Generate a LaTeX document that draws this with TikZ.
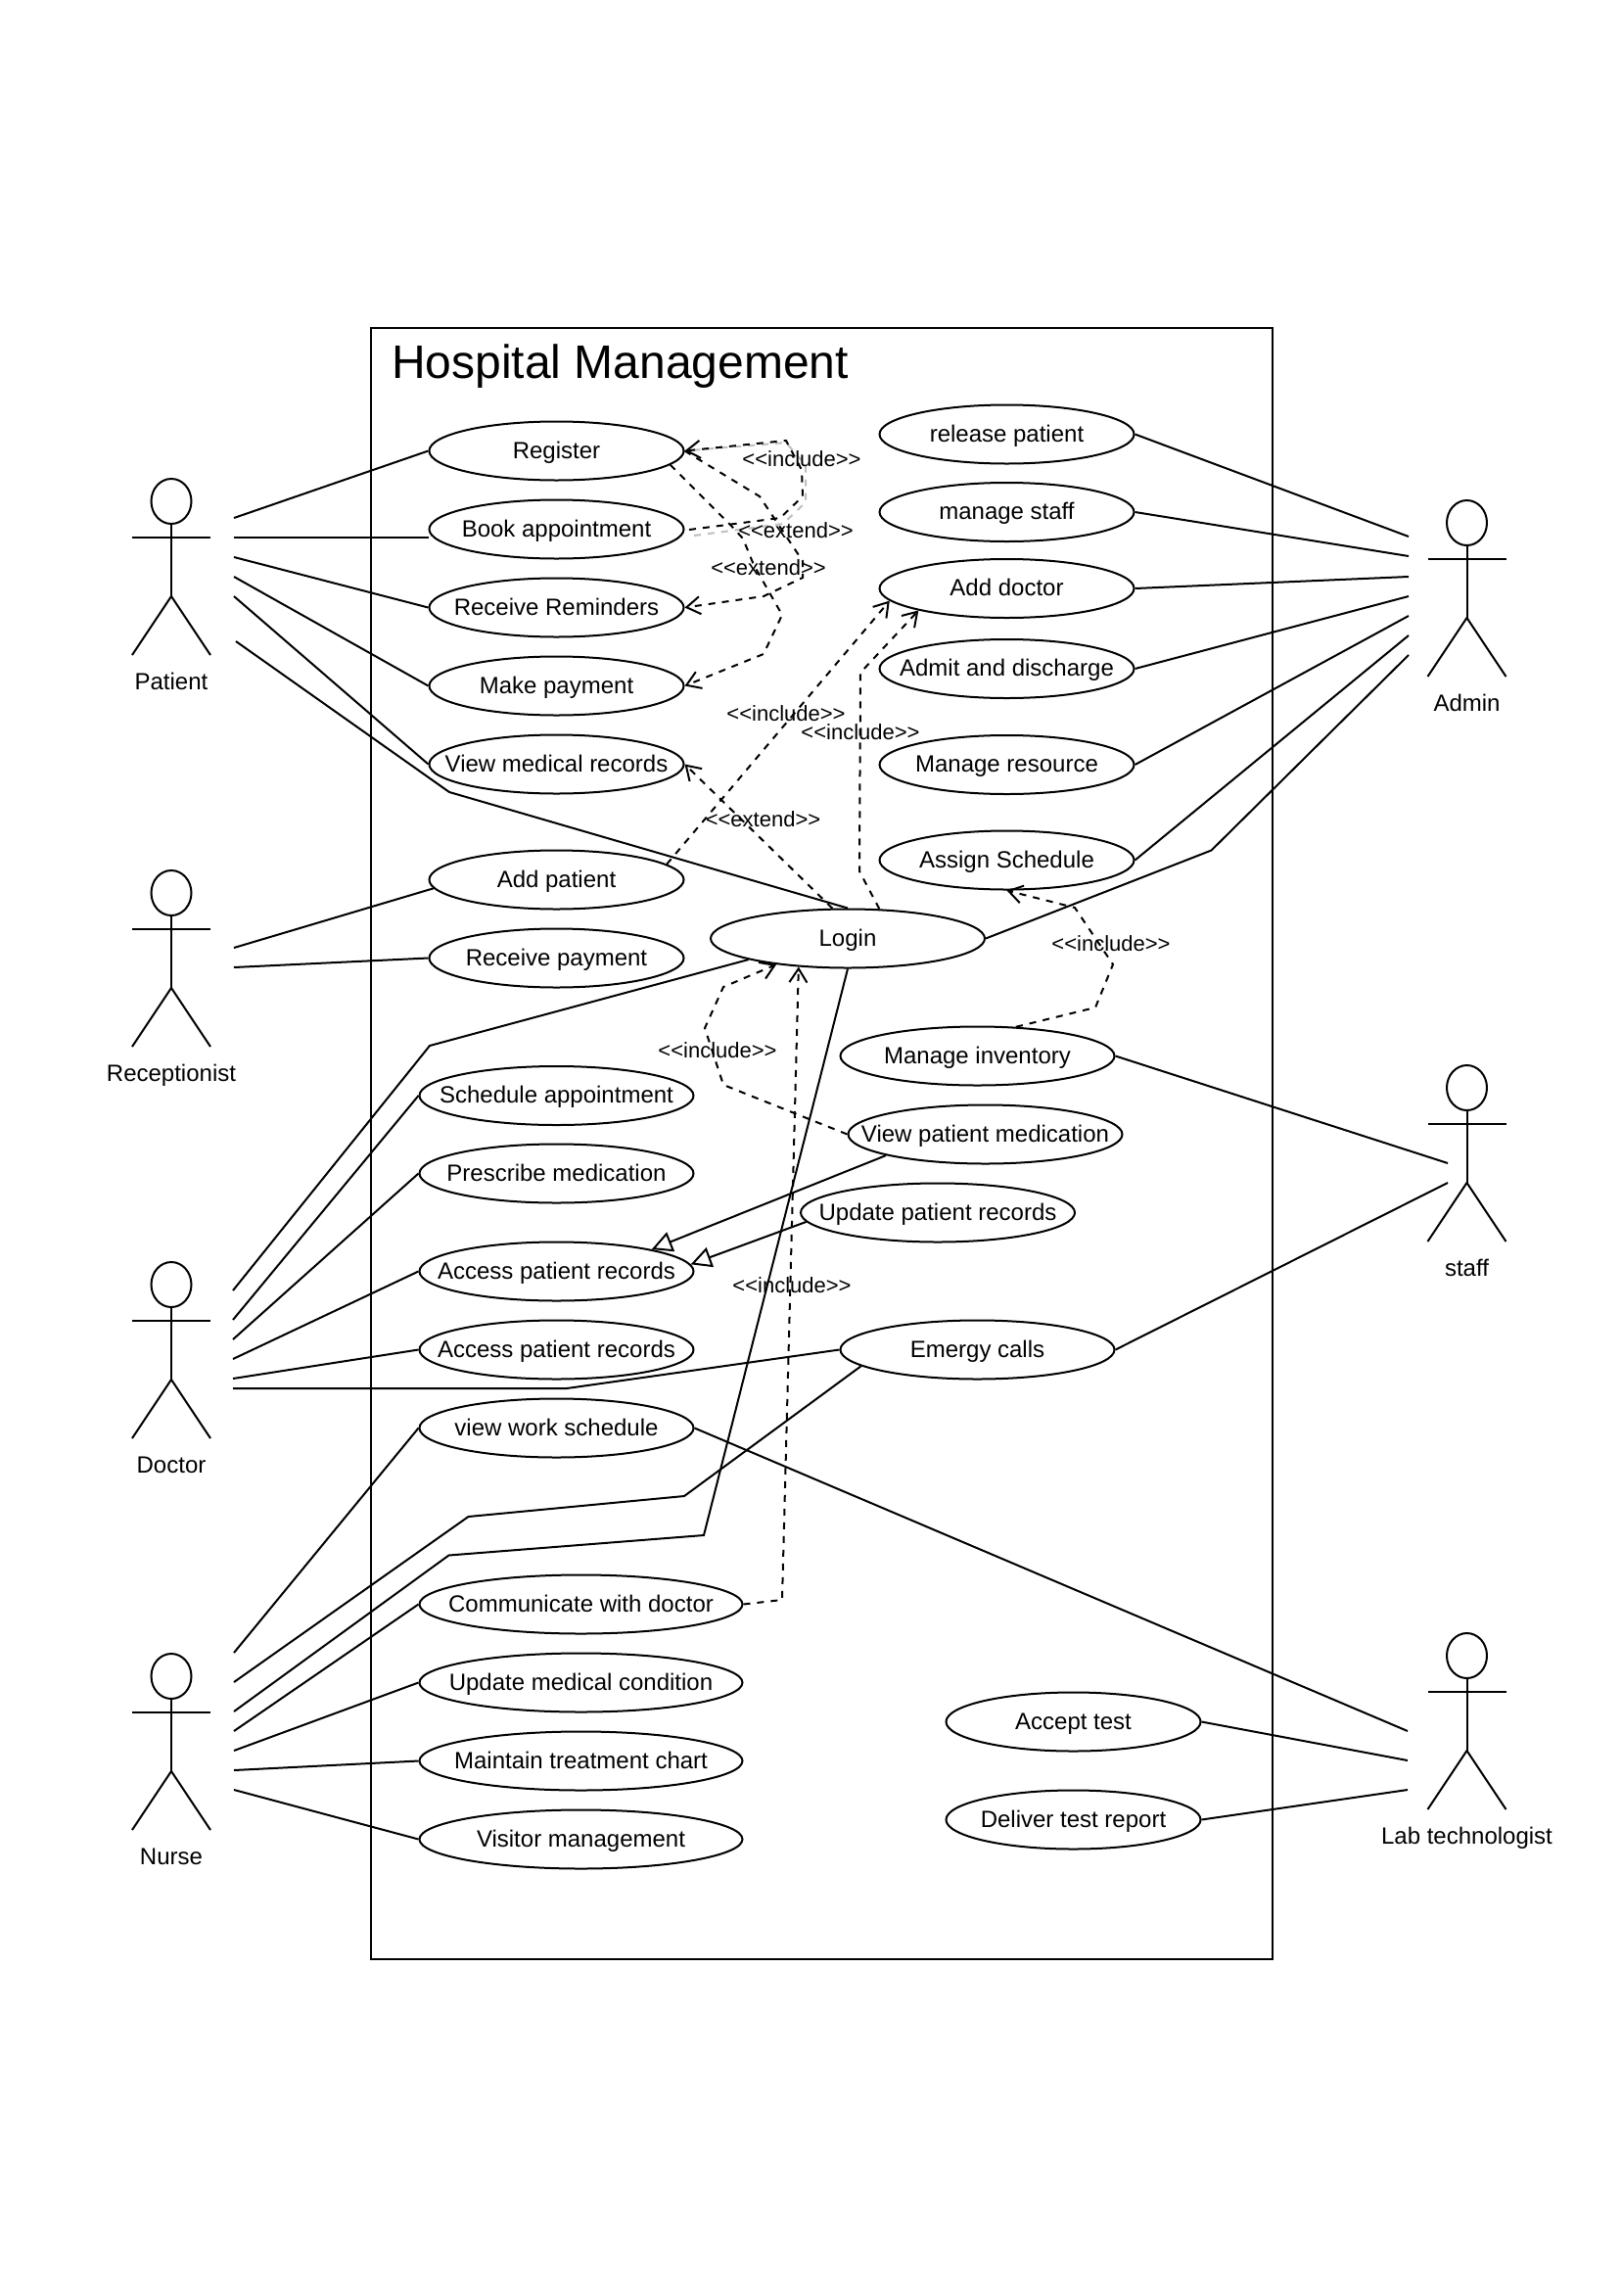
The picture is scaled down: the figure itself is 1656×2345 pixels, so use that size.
\documentclass[tikz,border=0pt]{standalone}
\usepackage{fontspec}
\setmainfont{Liberation Sans}
\usetikzlibrary{shapes.geometric,arrows.meta}
\tikzset{
  usecase/.style={ellipse,draw,minimum width=130pt,minimum height=30pt,inner xsep=-40pt,inner ysep=0pt,
    text height=10pt,text depth=2.4pt,font=\fontsize{12}{14}\selectfont},
  widecase/.style={usecase,minimum width=140pt},
  longcase/.style={usecase,minimum width=165pt},
  actorhead/.style={ellipse,draw,minimum width=20.5pt,minimum height=23pt,inner sep=0pt},
  actorlabel/.style={inner sep=0pt,text height=10pt,text depth=2.4pt,font=\fontsize{12}{14}\selectfont},
  stereo/.style={inner sep=0pt,text height=9pt,text depth=2pt,font=\fontsize{11}{13}\selectfont},
  dep/.style={dash pattern=on 3.5pt off 3.5pt},
  deptip/.style={dep,-{Straight Barb[length=7pt,width=9pt]}},
  gentip/.style={-{Triangle[open,length=10.5pt,width=10.5pt]}},
}
\newcommand{\inctext}{<{}<include>{}>}
\newcommand{\exttext}{<{}<extend>{}>}
\newcommand{\actor}[4]{%
  \node[actorhead] (#1head) at (#2,#3+23) {};
  \coordinate (#1hip) at (#2,#3+120);
  \draw (#1head) to (#1hip);
  \draw (#2-40,#3+60) to (#2+40,#3+60);
  \draw (#2-40,#3+180) to (#1hip) to (#2+40,#3+180);
  \node[actorlabel] (#1label) at (#2,#3+208) {#4};}
\begin{document}
\begin{tikzpicture}[x=0.5pt,y=-0.5pt,line width=1pt]
  \useasboundingbox (0,0) rectangle (1656,2345);
  \node[draw,minimum width=460.5pt,minimum height=833pt,inner sep=0pt,outer sep=0pt,anchor=north west] (frame) at (378.5,334.5) {};
  \node[anchor=base west,inner sep=0pt,font=\fontsize{24}{28}\selectfont] (title) at (399,386) {Hospital Management};

  \actor{patient}{175}{489}{Patient}
  \actor{recept}{175}{889}{Receptionist}
  \actor{doctor}{175}{1289}{Doctor}
  \actor{nurse}{175}{1689}{Nurse}
  \actor{admin}{1498.5}{511}{Admin}
  \actor{staff}{1498.5}{1088}{staff}
  \actor{lab}{1498.5}{1668}{Lab technologist}

  \node[usecase] (reg) at (568.5,460.5) {Register};
  \node[usecase] (book) at (568.5,540.5) {Book appointment};
  \node[usecase] (remind) at (568.5,620.5) {Receive Reminders};
  \node[usecase] (pay) at (568.5,700.5) {Make payment};
  \node[usecase] (viewrec) at (568.5,780.5) {View medical records};
  \node[usecase] (addpat) at (568.5,898.5) {Add patient};
  \node[usecase] (recpay) at (568.5,978.5) {Receive payment};
  \node[widecase] (sched) at (568.5,1119) {Schedule appointment};
  \node[widecase] (presc) at (568.5,1198.5) {Prescribe medication};
  \node[widecase] (access) at (568.5,1298.5) {Access patient records};
  \node[widecase] (accessb) at (568.5,1378.5) {Access patient records};
  \node[widecase] (worksch) at (568.5,1458.5) {view work schedule};
  \node[longcase] (commdoc) at (593.5,1638.5) {Communicate with doctor};
  \node[longcase] (updcond) at (593.5,1718.5) {Update medical condition};
  \node[longcase] (chart) at (593.5,1798.5) {Maintain treatment chart};
  \node[longcase] (visitor) at (593.5,1878.5) {Visitor management};
  \node[usecase] (release) at (1028.5,443.5) {release patient};
  \node[usecase] (mstaff) at (1028.5,523) {manage staff};
  \node[usecase] (adddoc) at (1028.5,601) {Add doctor};
  \node[usecase] (admit) at (1028.5,683) {Admit and discharge};
  \node[usecase] (resource) at (1028.5,781) {Manage resource};
  \node[usecase] (assign) at (1028.5,878.5) {Assign Schedule};
  \node[widecase] (login) at (866,958.5) {Login};
  \node[widecase] (inventory) at (998.5,1078.5) {Manage inventory};
  \node[widecase] (viewmed) at (1006.5,1158.5) {View patient medication};
  \node[widecase] (updrec) at (958,1238.5) {Update patient records};
  \node[widecase] (emergy) at (998.5,1378.5) {Emergy calls};
  \node[usecase] (accept) at (1096.5,1758.5) {Accept test};
  \node[usecase] (deliver) at (1096.5,1858.5) {Deliver test report};

  % free ends beside the actors
  \foreach \n/\y in {1/529,2/549,3/569,4/589,5/609}
    \coordinate (pat\n) at (239,\y);
  \coordinate (pat6) at (241,655);
  \foreach \n/\y in {1/968,2/988}
    \coordinate (rec\n) at (239,\y);
  \foreach \n/\y in {1/1318,2/1348,3/1368,4/1388,5/1408,6/1418}
    \coordinate (doc\n) at (238,\y);
  \foreach \n/\y in {1/1688,2/1718,3/1748,4/1768,5/1788,6/1808,7/1828}
    \coordinate (nur\n) at (239,\y);
  \foreach \n/\y in {1/548,2/568,3/589,4/609,5/629,6/649,7/669}
    \coordinate (adm\n) at (1439,\y);
  \foreach \n/\y in {1/1188,2/1208}
    \coordinate (stf\n) at (1479,\y);
  \foreach \n/\y in {1/1768,2/1798,3/1828}
    \coordinate (tec\n) at (1438,\y);

  \begin{scope}[-]
    \draw (pat1) to (reg.west);
    \draw (pat2) to (book.west |- pat2);
    \draw (pat3) to (remind.west);
    \draw (pat4) to (pay.west);
    \draw (pat5) to (viewrec.west);
    \draw (pat6) to (459,809) to (login.north);
    \draw (rec1) to (addpat.184);
    \draw (rec2) to (recpay.west);
    \draw (doc1) to (439,1068) to (login.192);
    \draw (doc2) to (sched.west);
    \draw (doc3) to (presc.west);
    \draw (doc4) to (access.west);
    \draw (doc5) to (accessb.west);
    \draw (doc6) to (579,1418) to (emergy.west);
    \draw (nur1) to (worksch.west);
    \draw (nur2) to (478.5,1549) to (699,1528) to (emergy.188);
    \draw (nur3) to (458.5,1588.5) to (719,1568) to (login.south);
    \draw (nur4) to (commdoc.west);
    \draw (nur5) to (updcond.west);
    \draw (nur6) to (chart.west);
    \draw (nur7) to (visitor.west);
    \draw (adm1) to (release.east);
    \draw (adm2) to (mstaff.east);
    \draw (adm3) to (adddoc.east);
    \draw (adm4) to (admit.east);
    \draw (adm5) to (resource.east);
    \draw (adm6) to (assign.east);
    \draw (adm7) to (1237.5,868.5) to (login.east);
    \draw (stf1) to (inventory.east);
    \draw (stf2) to (emergy.east);
    \draw (tec1) to (worksch.east);
    \draw (tec2) to (accept.east);
    \draw (tec3) to (deliver.east);
  \end{scope}

  \draw[dep,black!25] (709,547) to (800,535) to (823,513) to (823,475) to (803,452) to (reg.east);
  \draw[deptip] (704,541) to (797,529) to (820,507) to (819,480) to (803,450) to (reg.east);
  \draw[deptip] (reg.east) to (776,507) to (820,573) to (820,590) to (780,609) to (remind.east);
  \draw[deptip] (reg.-7) to (747,537) to (759,550) to (770,577) to (799,628) to (780,668) to (pay.east);
  \draw[deptip] (addpat.8) to (adddoc.186);
  \draw[deptip] (login.43) to (878,890) to (879,687) to (adddoc.194);
  \draw[deptip] (login.117) to (viewrec.east);
  \draw[deptip] (inventory.37) to (1119,1029) to (1137,985) to (1098,927) to (assign.south);
  \draw[deptip] (viewmed.west) to (739,1108) to (720,1050) to (739,1008) to (login.200);
  \draw[deptip] (commdoc.east) to (799,1634) to (login.210);
  \draw[gentip] (viewmed.192) to (access.13);
  \draw[gentip] (updrec.184) to (access.3);

  \node[stereo] (inca) at (819,469) {\inctext};
  \node[stereo] (exta) at (813,542) {\exttext};
  \node[stereo] (extb) at (785,580) {\exttext};
  \node[stereo] (incb) at (803,729) {\inctext};
  \node[stereo] (incc) at (879,748.5) {\inctext};
  \node[stereo] (extc) at (779.5,837.5) {\exttext};
  \node[stereo] (incd) at (1135,964.5) {\inctext};
  \node[stereo] (ince) at (733,1073) {\inctext};
  \node[stereo] (incf) at (809,1313) {\inctext};
\end{tikzpicture}
\end{document}
